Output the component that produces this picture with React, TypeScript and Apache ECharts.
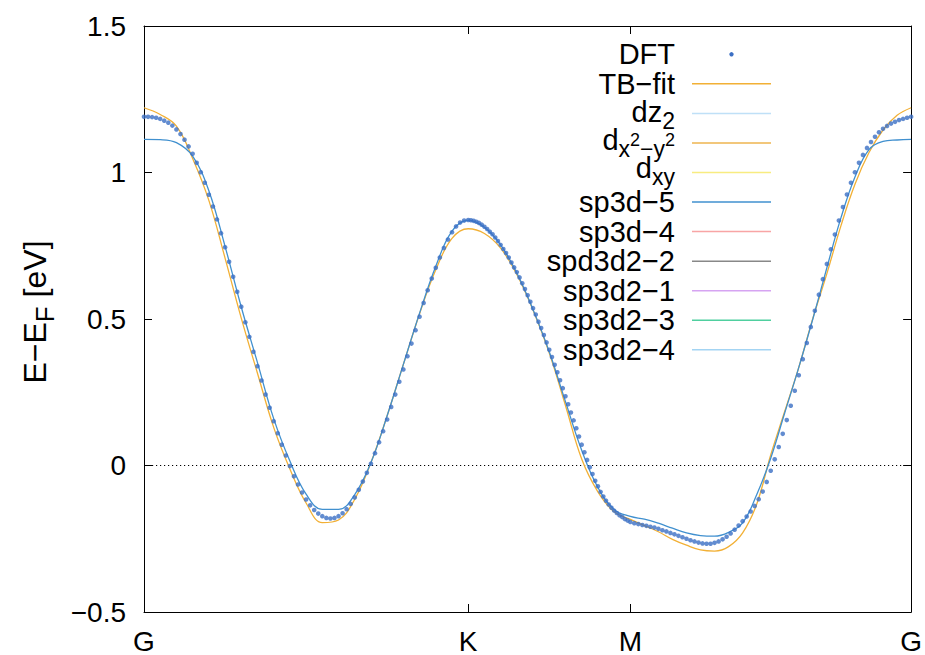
import React, { useEffect, useRef } from "react";
import * as echarts from "echarts";

// ---- data -------------------------------------------------------------
// path nodes (reciprocal-space distance) and their labels
const kNodes = [0, 1.3333, 2.0, 3.1547];
const kLabels = ["G", "K", "M", "G"];

const yMin = -0.5;
const yMax = 1.5;
const yStep = 0.5;
const fermiLevel = 0;

// DFT band, sampled evenly on each path segment (G-K incl. both ends, K-M and M-G excl. start)
const dftGK = [
  1.190, 1.190, 1.189, 1.187, 1.183, 1.177, 1.170, 1.160, 1.147, 1.131,
  1.112, 1.089, 1.064, 1.033, 1.001, 0.965, 0.924, 0.884, 0.840, 0.793,
  0.745, 0.695, 0.644, 0.593, 0.542, 0.489, 0.439, 0.388, 0.339, 0.290,
  0.242, 0.197, 0.151, 0.110, 0.071, 0.034, -0.002, -0.037, -0.065, -0.092,
  -0.116, -0.136, -0.152, -0.164, -0.173, -0.179, -0.181, -0.179, -0.173, -0.163,
  -0.149, -0.131, -0.109, -0.083, -0.055, -0.025, 0.006, 0.042, 0.079, 0.117,
  0.157, 0.200, 0.242, 0.286, 0.328, 0.373, 0.416, 0.462, 0.508, 0.555,
  0.598, 0.638, 0.675, 0.710, 0.742, 0.771, 0.796, 0.816, 0.829, 0.836,
  0.838,
];
const dftKM = [
  0.837, 0.835, 0.832, 0.828, 0.822, 0.815, 0.807, 0.798, 0.789, 0.778,
  0.766, 0.753, 0.739, 0.725, 0.710, 0.693, 0.676, 0.660, 0.642, 0.622,
  0.602, 0.581, 0.559, 0.537, 0.515, 0.491, 0.469, 0.445, 0.420, 0.395,
  0.370, 0.344, 0.318, 0.291, 0.264, 0.236, 0.209, 0.181, 0.154, 0.127,
  0.099, 0.071, 0.045, 0.019, -0.006, -0.029, -0.052, -0.071, -0.090, -0.106,
  -0.120, -0.133, -0.144, -0.154, -0.162, -0.170, -0.176, -0.183, -0.188, -0.193,
];
const dftMG = [
  -0.197, -0.200, -0.203, -0.206, -0.209, -0.212, -0.216, -0.221, -0.225, -0.230,
  -0.235, -0.240, -0.245, -0.250, -0.255, -0.259, -0.263, -0.266, -0.267, -0.267,
  -0.264, -0.259, -0.252, -0.243, -0.232, -0.219, -0.205, -0.190, -0.174, -0.157,
  -0.138, -0.115, -0.089, -0.056, -0.018, 0.021, 0.063, 0.108, 0.155, 0.204,
  0.255, 0.308, 0.363, 0.418, 0.473, 0.528, 0.583, 0.636, 0.688, 0.738,
  0.788, 0.836, 0.882, 0.925, 0.965, 1.001, 1.033, 1.060, 1.084, 1.104,
  1.122, 1.137, 1.149, 1.159, 1.167, 1.173, 1.179, 1.183, 1.187, 1.190,
];

// TB-fit band
const tbGK = [
  1.221, 1.198, 1.158, 1.048, 0.905, 0.708, 0.503, 0.315, 0.130, -0.012,
  -0.128, -0.195, -0.186, -0.115, 0.010, 0.170, 0.345, 0.518, 0.668, 0.775,
  0.808,
];
const tbKM = [0.792, 0.742, 0.652, 0.530, 0.384, 0.205, 0.022, -0.090, -0.158, -0.184];
const tbMG = [
  -0.205, -0.226, -0.252, -0.272, -0.288, -0.292, -0.277, -0.230, -0.132, 0.036,
  0.185, 0.335, 0.502, 0.655, 0.818, 0.960, 1.068, 1.145, 1.195, 1.221,
];

// sp3d-5 band
const sp3d5GK = [
  1.113, 1.112, 1.102, 1.056, 0.938, 0.748, 0.541, 0.351, 0.160, 0.015,
  -0.098, -0.150, -0.150, -0.099, 0.010, 0.170, 0.345, 0.520, 0.680, 0.800,
  0.837,
];
const sp3d5KM = [0.813, 0.753, 0.657, 0.532, 0.388, 0.218, 0.052, -0.075, -0.150, -0.174];
const sp3d5MG = [
  -0.183, -0.197, -0.214, -0.230, -0.239, -0.241, -0.228, -0.196, -0.100, 0.025,
  0.180, 0.335, 0.500, 0.675, 0.845, 0.985, 1.078, 1.106, 1.111, 1.113,
];

// legend entries (gnuplot enhanced-text markup) and colours
const legendNames = [
  "DFT", "TB−fit", "dz_2", "d_{x^2−y^2}", "d_{xy}", "sp3d−5",
  "sp3d−4", "spd3d2−2", "sp3d2−1", "sp3d2−3", "sp3d2−4",
];
const legendColors = [
  "#3b6fc4", "#f2b035", "#bfe0f7", "#eeb44f", "#f8ec80", "#4090cf",
  "#f8a5a5", "#888888", "#d6a4f2", "#4fcf9f", "#a3d4f3",
];
const yTitle = "E−E_F [eV]";

// ---- helpers ----------------------------------------------------------
const FONT = '"Liberation Sans", Arial, Helvetica, sans-serif';

function onPath(segs: number[][]): [number, number][] {
  const pts: [number, number][] = [];
  segs.forEach((vals, s) => {
    const a = kNodes[s];
    const b = kNodes[s + 1];
    const n = s === 0 ? vals.length - 1 : vals.length;
    vals.forEach((v, i) => {
      const t = s === 0 ? i / n : (i + 1) / n;
      pts.push([a + (b - a) * t, v]);
    });
  });
  return pts;
}

type Lvl = "n" | "sub" | "subsup";
type Run = { t: string; lvl: Lvl };
function parseEnh(s: string, lvl: Lvl = "n"): Run[] {
  const out: Run[] = [];
  let buf = "";
  let i = 0;
  const flush = () => {
    if (buf) out.push({ t: buf, lvl });
    buf = "";
  };
  while (i < s.length) {
    const c = s[i];
    if (c === "_" || c === "^") {
      flush();
      let inner = "";
      if (s[i + 1] === "{") {
        let depth = 0;
        let j = i + 1;
        for (; j < s.length; j++) {
          if (s[j] === "{") depth++;
          else if (s[j] === "}") {
            depth--;
            if (depth === 0) break;
          }
        }
        inner = s.slice(i + 2, j);
        i = j + 1;
      } else {
        inner = s[i + 1];
        i += 2;
      }
      const next: Lvl = c === "_" ? "sub" : "subsup";
      out.push(...parseEnh(inner, next));
    } else {
      buf += c;
      i++;
    }
  }
  flush();
  return out;
}

export default function App() {
  const ref = useRef<HTMLDivElement>(null);

  useEffect(() => {
    if (!ref.current) return;
    const chart = echarts.init(ref.current, undefined, { renderer: "svg" });

    const canvas = document.createElement("canvas");
    const ctx = canvas.getContext("2d")!;
    const measure = (t: string, size: number) => {
      ctx.font = `${size}px ${FONT}`;
      return ctx.measureText(t).width;
    };

    // build text runs; anchor: 'right' => ends at x, 'center' => centred on x
    const runsToEls = (
      str: string,
      x: number,
      baseline: number,
      anchor: "right" | "center",
      base: number
    ) => {
      const lvlStyle: Record<Lvl, { size: number; dy: number }> = {
        n: { size: base, dy: 0 },
        sub: { size: Math.round(base * 0.8), dy: base * 0.24 },
        subsup: { size: Math.round(base * 0.62), dy: -base * 0.14 },
      };
      const runs = parseEnh(str);
      const widths = runs.map((r) => measure(r.t, lvlStyle[r.lvl].size));
      const total = widths.reduce((a, b) => a + b, 0);
      let cx = anchor === "right" ? x - total : x - total / 2;
      return runs.map((r, k) => {
        const st = lvlStyle[r.lvl];
        const el = {
          type: "text",
          x: cx,
          y: baseline + st.dy - 0.3465 * st.size,
          silent: true,
          style: {
            text: r.t,
            fontSize: st.size,
            fontFamily: FONT,
            fill: "#000",
            textAlign: "left",
            align: "left",
            textVerticalAlign: "middle",
            verticalAlign: "middle",
          },
        };
        cx += widths[k];
        return el;
      });
    };

    const legendEls: any[] = [];
    const textRight = 675;
    const lx1 = 692;
    const lx2 = 771;
    const row0 = 54.3;
    const gap = 29.55;
    legendNames.forEach((name, r) => {
      const y = row0 + r * gap;
      const hasSup = /\^/.test(name);
      const hasSub = /_/.test(name);
      const shift = hasSup ? 7 : hasSub ? (name.length > 4 ? 6 : 8.5) : 10;
      legendEls.push(...runsToEls(name, textRight, y + shift, "right", 29));
      if (r === 0) {
        legendEls.push({
          type: "circle",
          silent: true,
          shape: { cx: (lx1 + lx2) / 2, cy: y, r: 2.2 },
          style: { fill: legendColors[r] },
        });
      } else {
        legendEls.push({
          type: "line",
          silent: true,
          shape: { x1: lx1, y1: y, x2: lx2, y2: y },
          style: { stroke: legendColors[r], lineWidth: 1.5 },
        });
      }
    });

    const yTitleGroup = {
      type: "group",
      x: 35,
      y: 312,
      rotation: Math.PI / 2,
      silent: true,
      children: runsToEls(yTitle, 0, 11, "center", 32),
    };

    const axisCommon = {
      axisLine: { show: true, onZero: false, lineStyle: { color: "#000", width: 1 } },
      splitLine: { show: false },
    };

    const option: any = {
      animation: false,
      backgroundColor: "#ffffff",
      grid: { left: 144, right: 13, top: 26, bottom: 42, containLabel: false },
      xAxis: [
        {
          type: "value",
          position: "bottom",
          min: kNodes[0],
          max: kNodes[kNodes.length - 1],
          ...axisCommon,
          axisTick: { show: true, inside: true, length: 8, customValues: kNodes, lineStyle: { color: "#000" } },
          axisLabel: {
            show: true,
            customValues: kNodes,
            formatter: (v: number) => {
              const i = kNodes.findIndex((k) => Math.abs(k - v) < 1e-6);
              return i >= 0 ? kLabels[i] : "";
            },
            color: "#000",
            fontSize: 28,
            fontFamily: FONT,
            margin: 15,
          },
        },
        {
          type: "value",
          position: "top",
          min: kNodes[0],
          max: kNodes[kNodes.length - 1],
          ...axisCommon,
          axisTick: { show: true, inside: true, length: 8, customValues: kNodes, lineStyle: { color: "#000" } },
          axisLabel: { show: false },
        },
      ],
      yAxis: [
        {
          type: "value",
          position: "left",
          min: yMin,
          max: yMax,
          interval: yStep,
          ...axisCommon,
          axisTick: { show: true, inside: true, length: 8, lineStyle: { color: "#000" } },
          axisLabel: {
            show: true,
            color: "#000",
            fontSize: 28,
            fontFamily: FONT,
            margin: 18,
            formatter: (v: number) => String(v).replace("-", "−"),
          },
        },
        {
          type: "value",
          position: "right",
          min: yMin,
          max: yMax,
          interval: yStep,
          ...axisCommon,
          axisTick: { show: true, inside: true, length: 8, lineStyle: { color: "#000" } },
          axisLabel: { show: false },
        },
      ],
      series: [
        {
          name: "E_F",
          type: "line",
          data: [
            [kNodes[0], fermiLevel],
            [kNodes[kNodes.length - 1], fermiLevel],
          ],
          symbol: "none",
          silent: true,
          lineStyle: { color: "#000", width: 1, type: [1.2, 2.8] },
          z: 1,
        },
        {
          name: "TB−fit",
          type: "line",
          data: onPath([tbGK, tbKM, tbMG]),
          smooth: 0.4,
          symbol: "none",
          silent: true,
          lineStyle: { color: legendColors[1], width: 1.3 },
          z: 2,
        },
        {
          name: "sp3d−5",
          type: "line",
          data: onPath([sp3d5GK, sp3d5KM, sp3d5MG]),
          smooth: 0.4,
          symbol: "none",
          silent: true,
          lineStyle: { color: legendColors[5], width: 1.3 },
          z: 3,
        },
        {
          name: "DFT",
          type: "scatter",
          data: onPath([dftGK, dftKM, dftMG]),
          symbol: "circle",
          symbolSize: 4.6,
          silent: true,
          itemStyle: { color: legendColors[0] },
          z: 4,
        },
      ],
      graphic: [...legendEls, yTitleGroup],
    };

    chart.setOption(option);
    return () => chart.dispose();
  }, []);

  return (
    <div
      ref={ref}
      style={{ position: "fixed", left: 0, top: 0, width: 925, height: 655, background: "#fff" }}
    />
  );
}
